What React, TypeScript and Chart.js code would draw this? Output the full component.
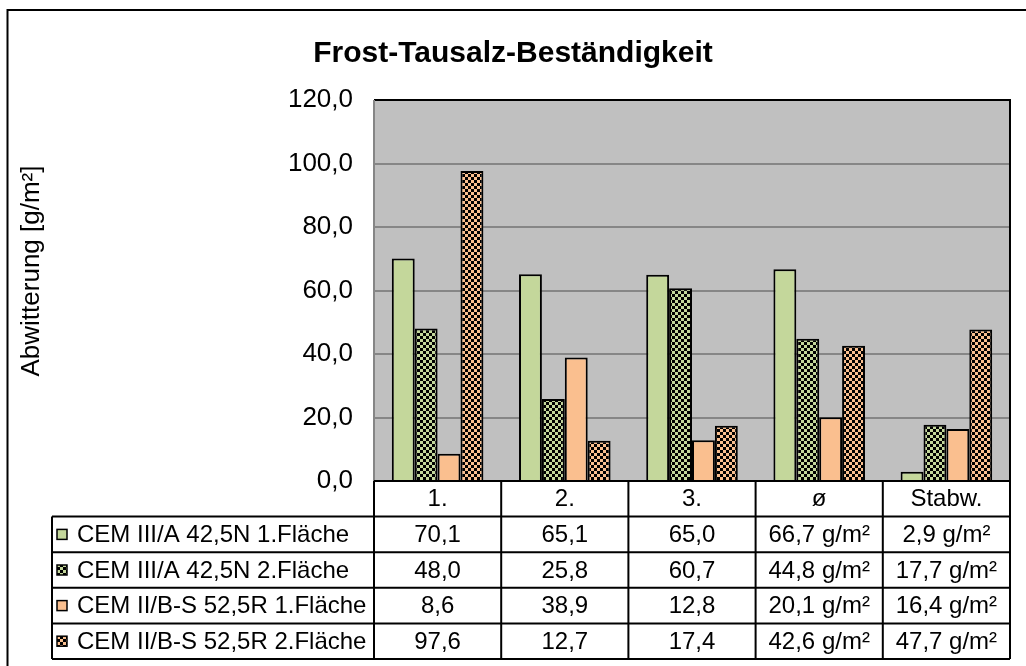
import React, { useEffect, useRef } from "react";
import { Chart, registerables } from "chart.js";

Chart.register(...registerables);

const categories = ["1.", "2.", "3.", "ø", "Stabw."];
const seriesNames = [
  "CEM III/A 42,5N 1.Fläche",
  "CEM III/A 42,5N 2.Fläche",
  "CEM II/B-S 52,5R 1.Fläche",
  "CEM II/B-S 52,5R 2.Fläche",
];
const cem3Flaeche1 = [70.1, 65.1, 65.0, 66.7, 2.9];
const cem3Flaeche2 = [48.0, 25.8, 60.7, 44.8, 17.7];
const cem2Flaeche1 = [8.6, 38.9, 12.8, 20.1, 16.4];
const cem2Flaeche2 = [97.6, 12.7, 17.4, 42.6, 47.7];
const valueSuffix = ["", "", "", " g/m²", " g/m²"];
const titleText = "Frost-Tausalz-Beständigkeit";
const yAxisTitle = "Abwitterung [g/m²]";
const yMin = 0;
const yMax = 120;
const yStep = 20;

const GREEN = "#C4D79B";
const ORANGE = "#FABF8F";
const FONT = "'Liberation Sans', Arial, sans-serif";

function makeChecker(color: string, cell: number): CanvasPattern | string {
  const c = document.createElement("canvas");
  c.width = cell * 2;
  c.height = cell * 2;
  const g = c.getContext("2d");
  if (!g) return color;
  g.fillStyle = color;
  g.fillRect(0, 0, cell * 2, cell * 2);
  g.fillStyle = "#000000";
  g.fillRect(0, 0, cell, cell);
  g.fillRect(cell, cell, cell, cell);
  const p = g.createPattern(c, "repeat");
  return p || color;
}

const fmt = (v: number) => v.toFixed(1).replace(".", ",");

export default function App() {
  const ref = useRef<HTMLCanvasElement | null>(null);

  useEffect(() => {
    const prevMargin = document.body.style.margin;
    const prevOverflow = document.body.style.overflow;
    document.body.style.margin = "0";
    document.body.style.overflow = "hidden";
    const canvas = ref.current;
    if (!canvas) return;
    const greenCheck = makeChecker(GREEN, 3);
    const orangeCheck = makeChecker(ORANGE, 3);
    const fills = [GREEN, greenCheck, ORANGE, orangeCheck];
    const seriesData = [cem3Flaeche1, cem3Flaeche2, cem2Flaeche1, cem2Flaeche2];

    const decor = {
      id: "decor",
      beforeDraw(chart: any) {
        const { ctx, chartArea: a } = chart;
        ctx.save();
        ctx.fillStyle = "#ffffff";
        ctx.fillRect(0, 0, chart.width, chart.height);
        ctx.fillStyle = "#C0C0C0";
        ctx.fillRect(a.left, a.top, a.right - a.left, a.bottom - a.top);
        ctx.restore();
      },
      afterDraw(chart: any) {
        const { ctx, chartArea: a } = chart;
        ctx.save();
        ctx.strokeStyle = "#000000";
        ctx.lineWidth = 2;
        ctx.beginPath();
        ctx.moveTo(a.left, a.top);
        ctx.lineTo(a.right, a.top);
        ctx.lineTo(a.right, a.bottom);
        ctx.stroke();
        ctx.strokeStyle = "#868686";
        ctx.beginPath();
        ctx.moveTo(a.left, a.top);
        ctx.lineTo(a.left, a.bottom);
        ctx.stroke();

        ctx.fillStyle = "#000000";
        ctx.font = `bold 30px ${FONT}`;
        ctx.textAlign = "center";
        ctx.textBaseline = "alphabetic";
        ctx.fillText(titleText, 513, 62);

        ctx.save();
        ctx.translate(39, 271);
        ctx.rotate(-Math.PI / 2);
        ctx.font = `26px ${FONT}`;
        ctx.textAlign = "center";
        ctx.textBaseline = "alphabetic";
        ctx.fillText(yAxisTitle, 0, 0);
        ctx.restore();

        const n = categories.length;
        const colW = (a.right - a.left) / n;
        const tTop = a.bottom;
        const tBottom = 659;
        const rowH = (tBottom - tTop) / (seriesNames.length + 1);
        const labelLeft = 52;
        ctx.strokeStyle = "#000000";
        ctx.lineWidth = 2;
        ctx.beginPath();
        ctx.moveTo(a.left, tTop);
        ctx.lineTo(a.right, tTop);
        for (let r = 1; r <= seriesNames.length + 1; r++) {
          const y = tTop + r * rowH;
          ctx.moveTo(labelLeft, y);
          ctx.lineTo(a.right, y);
        }
        ctx.moveTo(labelLeft, tTop + rowH);
        ctx.lineTo(labelLeft, tBottom);
        for (let i = 0; i <= n; i++) {
          const x = a.left + i * colW;
          ctx.moveTo(x, tTop);
          ctx.lineTo(x, tBottom);
        }
        ctx.stroke();

        ctx.fillStyle = "#000000";
        ctx.font = `24px ${FONT}`;
        ctx.textBaseline = "middle";
        ctx.textAlign = "center";
        categories.forEach((c, i) => {
          ctx.fillText(c, a.left + (i + 0.5) * colW, tTop + rowH / 2 + 1);
        });
        seriesNames.forEach((name, s) => {
          const yc = tTop + (s + 1.5) * rowH;
          ctx.fillStyle = fills[s] as any;
          ctx.fillRect(57, yc - 5, 10, 10);
          ctx.strokeStyle = "#000000";
          ctx.lineWidth = 1.5;
          ctx.strokeRect(57, yc - 5, 10, 10);
          ctx.fillStyle = "#000000";
          ctx.textAlign = "left";
          ctx.fillText(name, 77, yc + 1);
          ctx.textAlign = "center";
          seriesData[s].forEach((v, i) => {
            ctx.fillText(fmt(v) + valueSuffix[i], a.left + (i + 0.5) * colW, yc + 1);
          });
        });

        // clear the far right margin, then outer chart border (top and left visible)
        ctx.fillStyle = "#ffffff";
        ctx.fillRect(a.right + 2, 0, chart.width - a.right, chart.height);
        ctx.strokeStyle = "#000000";
        ctx.lineWidth = 2;
        ctx.beginPath();
        ctx.moveTo(7.5, 666);
        ctx.lineTo(7.5, 10);
        ctx.lineTo(1026, 10);
        ctx.stroke();
        ctx.restore();
      },
    };

    const chart = new Chart(canvas, {
      type: "bar",
      data: {
        labels: categories,
        datasets: seriesData.map((d, s) => ({
          label: seriesNames[s],
          data: d,
          backgroundColor: fills[s] as any,
          borderColor: "#000000",
          borderWidth: 2,
          categoryPercentage: 0.72,
          barPercentage: 1,
        })),
      },
      options: {
        responsive: false,
        animation: false,
        devicePixelRatio: 1,
        layout: { padding: { left: 0, right: 16, top: 100, bottom: 7 } },
        plugins: {
          legend: { display: false },
          title: { display: false },
          tooltip: { enabled: false },
        },
        scales: {
          x: {
            ticks: { display: false },
            grid: { display: false },
            border: { display: false },
            afterFit: (s: any) => {
              s.height = 178;
            },
          },
          y: {
            min: yMin,
            max: yMax,
            ticks: {
              stepSize: yStep,
              color: "#000000",
              font: { family: FONT, size: 26 },
              padding: 21,
              callback: (v: any) => fmt(Number(v)),
            },
            grid: { color: "#868686", lineWidth: 2, drawTicks: false },
            border: { display: false },
            afterFit: (s: any) => {
              s.width = 374;
            },
          },
        },
      },
      plugins: [decor],
    });
    return () => {
      chart.destroy();
      document.body.style.margin = prevMargin;
      document.body.style.overflow = prevOverflow;
    };
  }, []);

  return (
    <div style={{ position: "fixed", left: 0, top: 0, width: 1026, height: 666, background: "#fff" }}>
      <canvas ref={ref} width={1026} height={666} style={{ width: 1026, height: 666, display: "block" }} />
    </div>
  );
}
